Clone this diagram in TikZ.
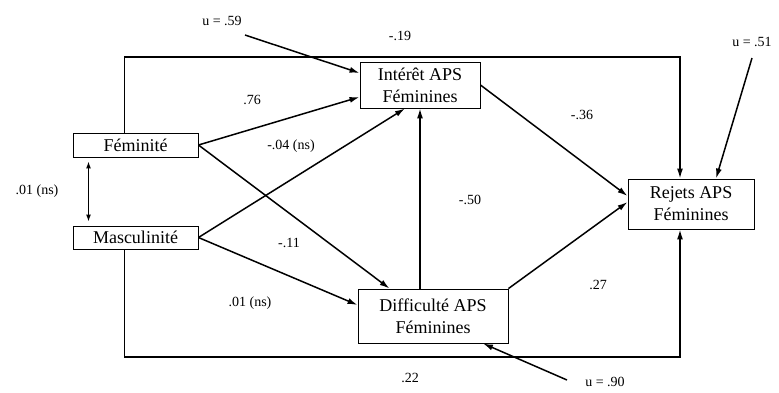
\documentclass[tikz,border=0pt]{standalone}
\usepackage{fontspec}
\setmainfont{Liberation Serif}
\usetikzlibrary{arrows.meta}
\begin{document}
\begin{tikzpicture}[x=1pt,y=-1pt,
  box/.style={draw, line width=0.9pt, inner sep=0pt, align=center,
    font=\fontsize{18}{22}\selectfont},
  lab/.style={font=\fontsize{14}{16}\selectfont, inner sep=1pt},
  arr/.style={line width=1.5pt, -{Latex[length=10pt,width=6pt]}},
]
\path[use as bounding box] (0,0) rectangle (779,392);

% boxes
\node[box, minimum width=125pt, minimum height=24pt] (fem) at (135.5,145) {Féminité};
\node[box, minimum width=125pt, minimum height=23pt] (mas) at (135.5,237.5) {Masculinité};
\node[box, minimum width=120pt, minimum height=46pt] (int) at (420,85) {Intérêt APS\\Féminines};
\node[box, minimum width=150pt, minimum height=54pt] (dif) at (433,316) {Difficulté APS\\Féminines};
\node[box, minimum width=126pt, minimum height=50pt] (rej) at (691,204) {Rejets APS\\Féminines};

% helper coordinates
\coordinate (tc) at (400,57);
\coordinate (bc) at (400,357);
\coordinate (u1s) at (245,35);
\coordinate (u2s) at (752,58);
\coordinate (u3s) at (567,380);

% outer paths
\draw[arr] ([xshift=-11pt]fem.north) |- (tc) -| ([xshift=-11pt]rej.north);
\draw[arr] ([xshift=-11pt]mas.south) |- (bc) -| ([xshift=-11pt]rej.south);

% correlation
\draw[line width=1.2pt, {Latex[length=7pt,width=5pt]}-{Latex[length=7pt,width=5pt]}, shorten <=4pt, shorten >=4pt]
  ([xshift=-47pt]fem.south) -- ([xshift=-47pt]mas.north);

% direct paths
\draw[arr] (fem.east) -- ([yshift=-12pt]int.west);
\draw[arr] (mas.east) -- ([xshift=-15pt]int.south);
\draw[arr] (fem.east) -- ([xshift=32pt]dif.north west);
\draw[arr] (mas.east) -- ([yshift=11pt]dif.west);
\draw[arr] ([xshift=-13pt]dif.north) -- (int.south);
\draw[arr] (int.east) -- ([yshift=8pt]rej.west);
\draw[arr] (dif.north east) -- ([yshift=2pt]rej.west);

% error terms
\draw[arr] (u1s) -- ([yshift=12pt]int.west);
\draw[arr] (u2s) -- ([xshift=25pt]rej.north);
\draw[arr] (u3s) -- ([xshift=50pt]dif.south);

% labels
\node[lab] (l19) at (400,36) {-.19};
\node[lab] (l22) at (410,378) {.22};
\node[lab] (l76) at (252,100) {.76};
\node[lab] (l04) at (291,146) {-.04 (ns)};
\node[lab] (l11) at (289,243) {-.11};
\node[lab] (l01b) at (250,303) {.01 (ns)};
\node[lab] (l50) at (470,200) {-.50};
\node[lab] (l36) at (582,115) {-.36};
\node[lab] (l27) at (598,285) {.27};
\node[lab] (l01) at (37,191) {.01 (ns)};
\node[lab] (u1) at (222,21) {u = .59};
\node[lab] (u2) at (752,42) {u = .51};
\node[lab] (u3) at (605,382) {u = .90};
\end{tikzpicture}
\end{document}
